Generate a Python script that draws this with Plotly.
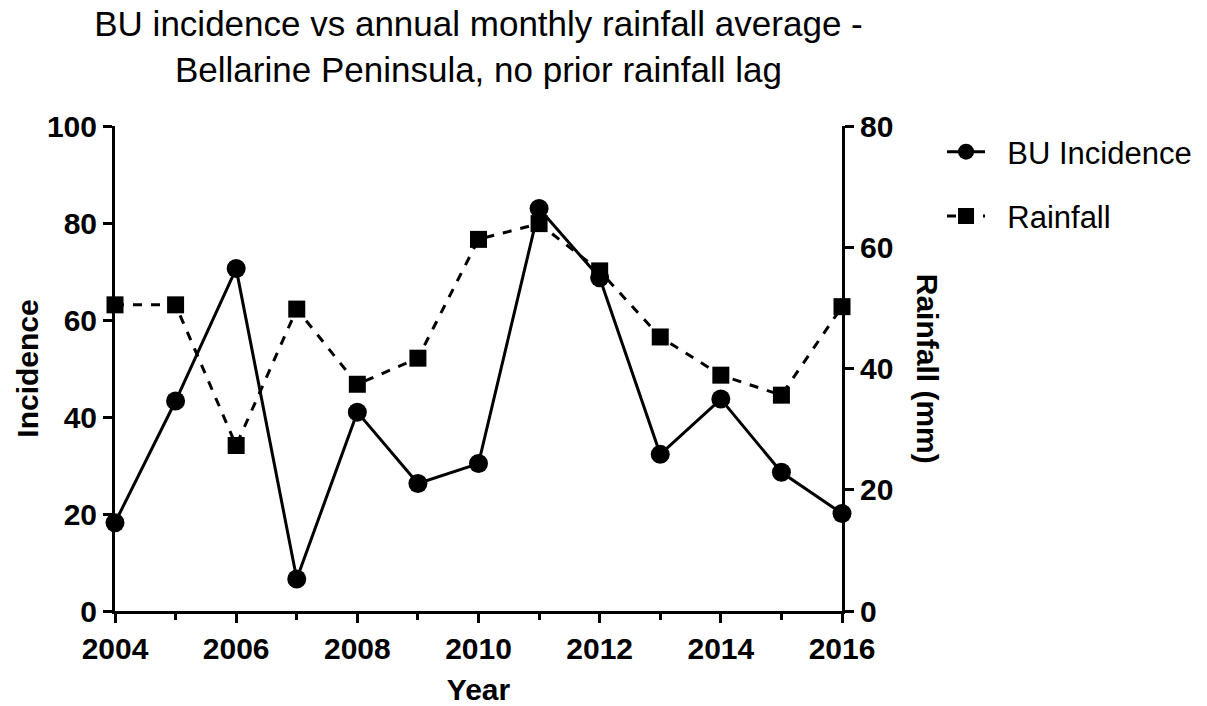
import plotly.graph_objects as go

years = [2004, 2005, 2006, 2007, 2008, 2009, 2010, 2011, 2012, 2013, 2014, 2015, 2016]
bu_incidence = [18.2, 43.3, 70.6, 6.6, 41.0, 26.3, 30.4, 83.0, 68.7, 32.3, 43.7, 28.6, 20.1]
rainfall_mm = [50.5, 50.5, 27.3, 49.8, 37.4, 41.7, 61.3, 63.9, 56.1, 45.2, 38.9, 35.6, 50.2]

FONT = "Liberation Sans, Arial, sans-serif"
PAD = "\u00a0\u00a0"

fig = go.Figure()
fig.add_trace(go.Scatter(
    x=years, y=bu_incidence, name=PAD + "BU Incidence", mode="lines+markers",
    line=dict(color="black", width=3),
    marker=dict(symbol="circle", size=19, color="black"),
    cliponaxis=False, yaxis="y", legendgroup="bu",
))
fig.add_trace(go.Scatter(
    x=years, y=rainfall_mm, name=PAD + "Rainfall", mode="lines+markers",
    line=dict(color="black", width=3, dash="dash"),
    marker=dict(symbol="square", size=17, color="black"),
    cliponaxis=False, yaxis="y2", legendgroup="rain",
))

axis_common = dict(
    showline=True, linecolor="black", linewidth=3,
    ticks="outside", ticklen=9, tickwidth=3, tickcolor="black",
    showgrid=False, zeroline=False, automargin=False,
    tickfont=dict(family=FONT, size=30, color="black", weight="bold"),
)

fig.update_layout(
    width=1207, height=706,
    paper_bgcolor="white", plot_bgcolor="white",
    margin=dict(l=115, r=365, t=126, b=95, autoexpand=False),
    title=dict(
        text="BU incidence vs annual monthly rainfall average -<br>Bellarine Peninsula, no prior rainfall lag",
        x=0.5, xref="paper", xanchor="center",
        y=0.949, yref="container", yanchor="middle",
        font=dict(family=FONT, size=35, color="black"),
    ),
    xaxis=dict(
        range=[2004, 2016], tickvals=[2004, 2006, 2008, 2010, 2012, 2014, 2016],
        minor=dict(tickvals=[2005, 2007, 2009, 2011, 2013, 2015], ticklen=6, tickwidth=3,
                   tickcolor="black", ticks="outside"),
        title=dict(text="Year", standoff=16,
                   font=dict(family=FONT, size=30, color="black", weight="bold")),
        **axis_common,
    ),
    yaxis=dict(
        range=[0, 100], tickvals=[0, 20, 40, 60, 80, 100],
        title=dict(text="Incidence", standoff=0,
                   font=dict(family=FONT, size=30, color="black", weight="bold")),
        **axis_common,
    ),
    yaxis2=dict(
        range=[0, 80], tickvals=[0, 20, 40, 60, 80],
        overlaying="y", side="right", anchor="x",
        **axis_common,
    ),
    legend=dict(
        x=1.1376, y=1.002, xref="paper", yref="paper", xanchor="left", yanchor="top",
        font=dict(family=FONT, size=31, color="black"),
        bgcolor="rgba(0,0,0,0)", tracegroupgap=21, traceorder="grouped",
        itemwidth=38,
    ),
    showlegend=True,
    annotations=[dict(
        text="Rainfall (mm)", textangle=90, x=1.118, y=0.5, xref="paper", yref="paper",
        xanchor="center", yanchor="middle", showarrow=False,
        font=dict(family=FONT, size=30, color="black", weight="bold"),
    )],
)

fig.write_html("out.html", config={"displayModeBar": False},
               post_script="document.body.style.margin='0px';")
